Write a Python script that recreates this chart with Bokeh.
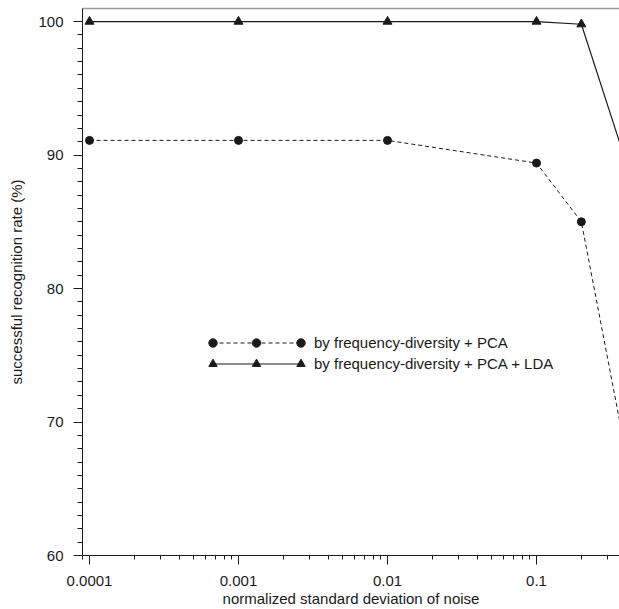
from bokeh.plotting import figure
from bokeh.models import (Range1d, FixedTicker, SingleIntervalTicker, CustomJSTickFormatter,
                          Legend, LegendItem, LogAxis)
from bokeh.embed import file_html
from bokeh.resources import INLINE

# ---- data ----
noise = [0.0001, 0.001, 0.01, 0.1, 0.2, 0.5]
rate_pca = [91.1, 91.1, 91.1, 89.4, 85.0, 61.9]
rate_pca_lda = [100.0, 100.0, 100.0, 100.0, 99.8, 86.1]
x_major_ticks = [0.0001, 0.001, 0.01, 0.1]
label_pca = "by frequency-diversity + PCA"
label_lda = "by frequency-diversity + PCA + LDA"

FONT = "Liberation Sans"
TXT = "#1a1a1a"

p = figure(width=619, height=609, output_backend="svg", toolbar_location=None,
           x_axis_type="log",
           x_range=Range1d(10 ** -4.047, 10 ** -0.443),
           y_range=Range1d(60, 100.98),
           min_border_left=82, min_border_right=0, min_border_top=8, min_border_bottom=0)
p.outline_line_color = None
p.xgrid.visible = False
p.ygrid.visible = False
p.background_fill_color = "white"
p.border_fill_color = "white"

# curves
l_pca = p.line(noise, rate_pca, line_color="#1a1a1a", line_width=1, line_dash="4 3")
s_pca = p.scatter(noise, rate_pca, marker="circle", size=8, fill_color="#1a1a1a", line_color="#1a1a1a")
l_lda = p.line(noise, rate_pca_lda, line_color="#1a1a1a", line_width=1.2)
s_lda = p.scatter(noise, rate_pca_lda, marker="triangle", size=9, fill_color="#1a1a1a", line_color="#1a1a1a")

# x axis
minor = [m * 10 ** e for e in range(-5, 1) for m in range(2, 10)]
xa = p.xaxis[0]
xa.ticker = FixedTicker(ticks=x_major_ticks, minor_ticks=minor)
xa.formatter = CustomJSTickFormatter(code="return tick.toString()")
xa.axis_label = "normalized standard deviation of noise"
for ax in p.axis:
    ax.axis_line_color = TXT
    ax.major_tick_line_color = TXT
    ax.minor_tick_line_color = TXT
    ax.major_tick_in = 0
    ax.major_tick_out = 9
    ax.minor_tick_in = 0
    ax.minor_tick_out = 4
    ax.major_label_text_font = FONT
    ax.major_label_text_font_size = "15px"
    ax.major_label_text_color = TXT
    ax.major_label_text_line_height = 1.0
    ax.axis_label_text_font = FONT
    ax.axis_label_text_font_size = "15px"
    ax.axis_label_text_font_style = "normal"
    ax.axis_label_text_color = TXT
    ax.axis_label_text_line_height = 1.0
xa.major_label_standoff = 11
xa.axis_label_standoff = 1

ya = p.yaxis[0]
ya.ticker = SingleIntervalTicker(interval=10, num_minor_ticks=10)
ya.axis_label = "successful recognition rate (%)"
ya.major_label_standoff = 10
ya.axis_label_standoff = 10
ya.minor_tick_out = 5

# top border line
top = LogAxis(ticker=FixedTicker(ticks=[]), major_tick_out=0, minor_tick_out=0,
              major_label_standoff=0, axis_label_standoff=0,
              major_label_text_font_size="0px", axis_line_color="#999999", axis_line_width=1.5)
p.add_layout(top, "above")

# legend: line + centre marker
leg_y = 181.5
leg_x = 130
main = Legend(items=[LegendItem(label=label_pca, renderers=[l_pca, s_pca]),
                     LegendItem(label=label_lda, renderers=[l_lda, s_lda])],
              location=(leg_x, leg_y), glyph_width=88, glyph_height=21, label_height=21,
              spacing=0, padding=0, margin=0, label_standoff=14,
              label_text_font=FONT, label_text_font_size="15px", label_text_color=TXT,
              background_fill_alpha=0, border_line_alpha=0)
p.add_layout(main, "center")
# extra end markers of the legend samples
for lx in (leg_x - 10.5, leg_x + 88 - 10.5):
    extra = Legend(items=[LegendItem(label=" ", renderers=[s_pca]),
                          LegendItem(label=" ", renderers=[s_lda])],
                   location=(lx, leg_y), glyph_width=21, glyph_height=21, label_height=21,
                   spacing=0, padding=0, margin=0, label_standoff=0,
                   label_text_font_size="1px",
                   background_fill_alpha=0, border_line_alpha=0)
    p.add_layout(extra, "center")

open("out.html", "w").write(file_html(p, INLINE))
